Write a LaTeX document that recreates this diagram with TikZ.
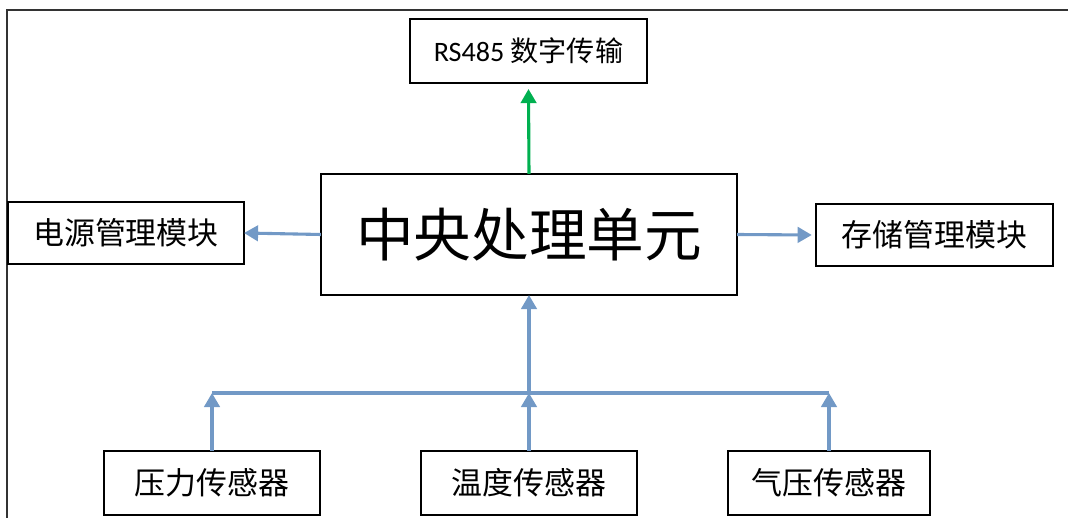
\documentclass[tikz,border=0pt]{standalone}
\usepackage{fontspec}
\setmainfont{Carlito}
\newfontfamily\cjk{Noto Sans CJK SC}
\usetikzlibrary{arrows.meta}
\definecolor{linkblue}{RGB}{114,153,198}
\definecolor{linkgreen}{RGB}{0,176,80}
\tikzset{
  unit/.style={draw, line width=1.4pt, outer sep=0pt, inner sep=0pt, font=\cjk\fontsize{22}{26}\selectfont},
  link/.style={linkblue, line width=2.2pt, -{Triangle[width=11pt,length=10pt]}}
}

\begin{document}
\begin{tikzpicture}[x=0.025cm, y=-0.025cm]
\useasboundingbox (0,0) rectangle (1068,518);

% Frame
\draw[line width=1pt, black!80] (7,518) -- (7,10) -- (1068,10);

% Boxes
\node[unit, minimum width=10.4cm, minimum height=3.025cm, font=\cjk\fontsize{41}{46}\selectfont] (cpu) at (529,234.5) {中央处理单元};
\node[unit, minimum width=5.925cm, minimum height=1.6cm, font=\fontsize{20}{24}\selectfont] (rs) at (528.5,51) {RS485 {\cjk 数字传输}};
\node[unit, minimum width=5.9cm, minimum height=1.55cm] (power) at (126,233) {电源管理模块};
\node[unit, minimum width=5.925cm, minimum height=1.55cm] (store) at (934.5,235) {存储管理模块};
\node[unit, minimum width=5.4cm, minimum height=1.6cm] (press) at (212,483) {压力传感器};
\node[unit, minimum width=5.4cm, minimum height=1.6cm] (temp) at (529,483) {温度传感器};
\node[unit, minimum width=5.05cm, minimum height=1.6cm] (baro) at (829,483) {气压传感器};

% Bus
\coordinate (busL) at (212,393);
\coordinate (busM) at (529,393);
\coordinate (busR) at (829,393);
\draw[linkblue, line width=2.2pt] (busL) -- (busR);

% Arrows
\draw[link, linkgreen] (cpu.north) -- ([yshift=-4.3pt]rs.south);
\draw[link] (cpu.west) -- (power.east);
\draw[link] (cpu.east) -- ([xshift=-3pt]store.west);
\draw[link] (busM) -- (cpu.south);
\draw[link] (press.north) -- (busL);
\draw[link] (temp.north) -- (busM);
\draw[link] (baro.north) -- (busR);

\end{tikzpicture}
\end{document}
